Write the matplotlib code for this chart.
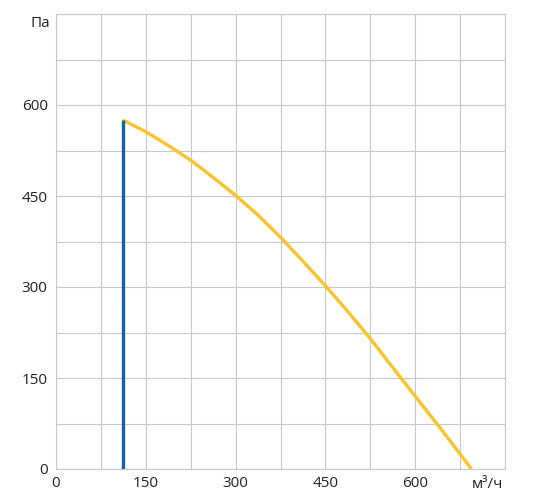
import numpy as np
import matplotlib.pyplot as plt

plt.rcParams['font.family'] = ['Open Sans', 'DejaVu Sans']

# Fan curve: airflow (m3/h) vs pressure (Pa)
flow = [112, 150, 188, 225, 262, 300, 338, 375, 412, 450, 488, 525, 562, 600, 647, 694]
pressure = [575, 556, 533, 509, 481, 451, 418, 382, 343, 302, 259, 215, 168, 120, 61, 0]

# Minimum airflow limit
limit_flow = 112
limit_top = 575

x_ticks = [0, 150, 300, 450, 600]
y_ticks = [0, 150, 300, 450, 600]

fig = plt.figure(figsize=(5.41, 4.95), dpi=100)
ax = fig.add_axes([56 / 541, 26 / 495, 449 / 541, 455 / 495])

ax.plot(flow, pressure, color='#fcc42a', lw=2.4, solid_capstyle='butt',
        solid_joinstyle='round', zorder=3)
ax.plot([limit_flow, limit_flow], [0, limit_top], color='#1b5ea8', lw=2.4,
        solid_capstyle='butt', zorder=4)

ax.set_xlim(0, 750)
ax.set_ylim(0, 750)
ax.set_xticks(np.arange(0, 751, 75), minor=True)
ax.set_yticks(np.arange(0, 751, 75), minor=True)
ax.set_xticks(x_ticks)
ax.set_yticks(y_ticks)
ax.grid(which='both', color='#c8c8c8', lw=0.8)
ax.tick_params(which='both', length=0, labelsize=11, colors='#222222')
ax.tick_params(axis='x', pad=5)
ax.tick_params(axis='y', pad=6)
for sp in ax.spines.values():
    sp.set_color('#c8c8c8')
    sp.set_linewidth(0.8)

ax.text(-0.013, 0.98, 'Па', transform=ax.transAxes, ha='right', va='center',
        fontsize=11, color='#222222')
ax.text(0.995, -0.017, 'м³/ч', transform=ax.transAxes, ha='right', va='top',
        fontsize=11, color='#222222')

fig.savefig('out.png', dpi=100)
